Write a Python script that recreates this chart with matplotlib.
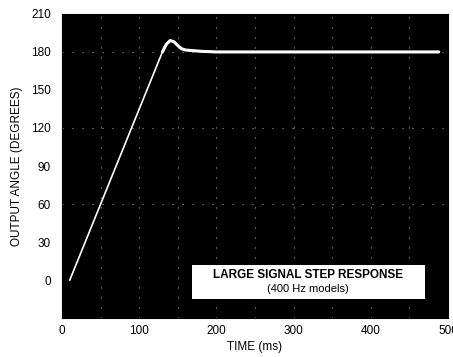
import numpy as np
import matplotlib
matplotlib.use("Agg")
import matplotlib.pyplot as plt

plt.rcParams["font.family"] = ["Liberation Sans", "DejaVu Sans"]

# step response
time_ms = [10, 20, 40, 60, 80, 100, 120, 130, 135, 140, 145, 150, 155, 160, 170, 180, 200, 250, 300, 350, 400, 450, 488]
angle_deg = [0, 15, 45, 75, 105, 135, 165, 180, 186, 189, 188, 185, 182.5, 181.5, 181, 180.5, 180, 180, 180, 180, 180, 180, 180]

x_ticks = [0, 100, 200, 300, 400, 500]
y_ticks = [0, 30, 60, 90, 120, 150, 180, 210]

fig = plt.figure(figsize=(4.53, 3.57), dpi=100)
ax = fig.add_axes([0.137, 0.109, 0.852, 0.852])
ax.set_facecolor("black")

ax.set_xlim(0, 500)
ax.set_ylim(-30, 210)
ax.set_xticks(x_ticks)
ax.set_yticks(y_ticks)
ax.tick_params(axis="y", length=0, labelsize=8.5, pad=8)
ax.tick_params(axis="x", length=0, labelsize=8.5, pad=5)

# sparse dotted grid like the scope graticule
for xv in range(50, 500, 50):
    ax.axvline(xv, color="white", lw=0.8, ls=(0, (1, 8)), alpha=0.6)
for yv in [60, 120, 180]:
    ax.axhline(yv, color="white", lw=0.8, ls=(0, (1, 8)), alpha=0.6)

t = np.array(time_ms)
a = np.array(angle_deg)
ax.plot(t, a, color="white", lw=1.2)
flat = t >= 130
ax.plot(t[flat], a[flat], color="white", lw=2.2, solid_capstyle="round")

ax.set_xlabel("TIME (ms)", fontsize=8.5, labelpad=3)
ax.set_ylabel("OUTPUT ANGLE (DEGREES)", fontsize=8.5, labelpad=6)

ax.add_patch(plt.Rectangle((0.337, 0.062), 0.604, 0.112, transform=ax.transAxes,
                           facecolor="white", edgecolor="none", zorder=2))
ax.text(0.638, 0.143, "LARGE SIGNAL STEP RESPONSE", transform=ax.transAxes,
        ha="center", va="center", fontsize=8.5, fontweight="bold", color="black", zorder=3)
ax.text(0.638, 0.097, "(400 Hz models)", transform=ax.transAxes,
        ha="center", va="center", fontsize=8, color="black", zorder=3)

fig.savefig("out.png", dpi=100, facecolor="white")
